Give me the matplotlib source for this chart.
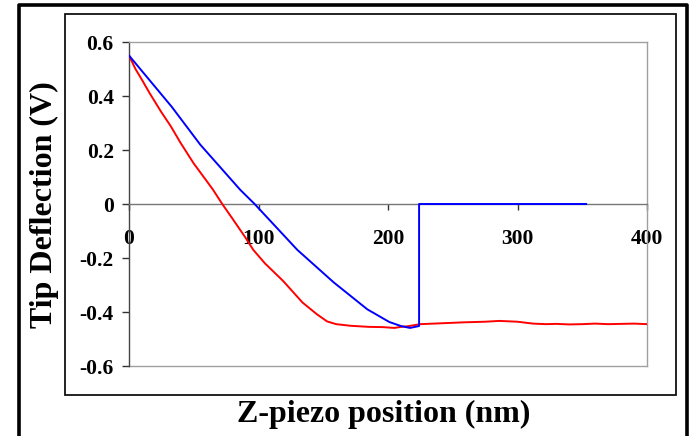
import matplotlib.pyplot as plt
from matplotlib.lines import Line2D
from matplotlib.patches import Rectangle

plt.rcParams['font.family'] = ['Liberation Serif', 'DejaVu Serif']
plt.rcParams['font.weight'] = 'bold'
plt.rcParams['axes.unicode_minus'] = False

# red curve (approach)
red_x = [0, 5, 10, 16, 25, 32, 40, 50, 60, 65, 72, 80, 90, 96, 105, 119, 134,
         145, 153, 160, 171, 178, 185, 196, 205, 210, 215, 225, 240, 250, 260,
         275, 286, 300, 312, 322, 330, 340, 350, 360, 370, 380, 390, 400]
red_y = [0.55, 0.50, 0.46, 0.41, 0.34, 0.29, 0.225, 0.15, 0.085, 0.052, 0.0,
         -0.055, -0.125, -0.17, -0.22, -0.285, -0.365, -0.408, -0.435, -0.445,
         -0.451, -0.453, -0.455, -0.456, -0.459, -0.455, -0.453, -0.445,
         -0.442, -0.44, -0.438, -0.436, -0.433, -0.436, -0.443, -0.445,
         -0.444, -0.446, -0.445, -0.443, -0.445, -0.444, -0.443, -0.445]

# blue curve (retract)
blue_x = [0, 33, 55, 86, 97, 130, 158, 184, 201, 210, 217, 221, 224, 224, 353]
blue_y = [0.55, 0.36, 0.22, 0.052, 0.0, -0.17, -0.29, -0.39, -0.437, -0.452,
          -0.459, -0.455, -0.452, 0.0, 0.0]

xticks = [0, 100, 200, 300, 400]
yticks = [-0.6, -0.4, -0.2, 0, 0.2, 0.4, 0.6]
ytick_labels = ['-0.6', '-0.4', '-0.2', '0', '0.2', '0.4', '0.6']

W, H = 689, 436
fig = plt.figure(figsize=(W / 100, H / 100), dpi=100)

# outer thick frame (bottom edge runs off the picture) and inner box
fig.add_artist(Line2D([18.5 / W, 18.5 / W, 686.5 / W, 686.5 / W],
                      [0, 1 - 5.5 / H, 1 - 5.5 / H, 0],
                      color='black', lw=2.6))
fig.add_artist(Rectangle((65 / W, 1 - 395 / H), 611 / W, 381 / H,
                         fill=False, edgecolor='#111111', lw=1.3))

ax = fig.add_axes([129 / W, 1 - 366 / H, 518 / W, 324 / H])
ax.plot(red_x, red_y, color='#ff0000', lw=1.4, zorder=3)
ax.plot(blue_x, blue_y, color='#0000ff', lw=1.4, zorder=3)

ax.set_xlim(0, 400)
ax.set_ylim(-0.6, 0.6)
ax.set_xticks(xticks)
ax.set_xticklabels([str(v) for v in xticks])
ax.set_yticks(yticks)
ax.set_yticklabels(ytick_labels)

for s in ['top', 'right']:
    ax.spines[s].set_color('#a0a0a0')
    ax.spines[s].set_linewidth(1)
ax.spines['left'].set_color('#444444')
ax.spines['left'].set_linewidth(1)
ax.spines['bottom'].set_position(('data', 0))
ax.spines['bottom'].set_color('#777777')
ax.spines['bottom'].set_linewidth(1)
ax.axhline(-0.6, color='#a0a0a0', lw=1, clip_on=False, zorder=0)

ax.tick_params(axis='x', direction='out', length=4, width=1, color='#333333',
               pad=14, labelsize=15.5)
ax.tick_params(axis='y', direction='out', length=5, width=1, color='#333333',
               pad=6, labelsize=15.5)
for lab in ax.get_xticklabels() + ax.get_yticklabels():
    lab.set_fontweight('bold')

fig.text(44 / W, 1 - 205 / H, 'Tip Deflection (V)', rotation=90,
         ha='center', va='center', fontsize=23, fontweight='bold')
fig.text(384 / W, 1 - 422 / H, 'Z-piezo position (nm)',
         ha='center', va='baseline', fontsize=23, fontweight='bold')

fig.savefig('out.png', dpi=100)
